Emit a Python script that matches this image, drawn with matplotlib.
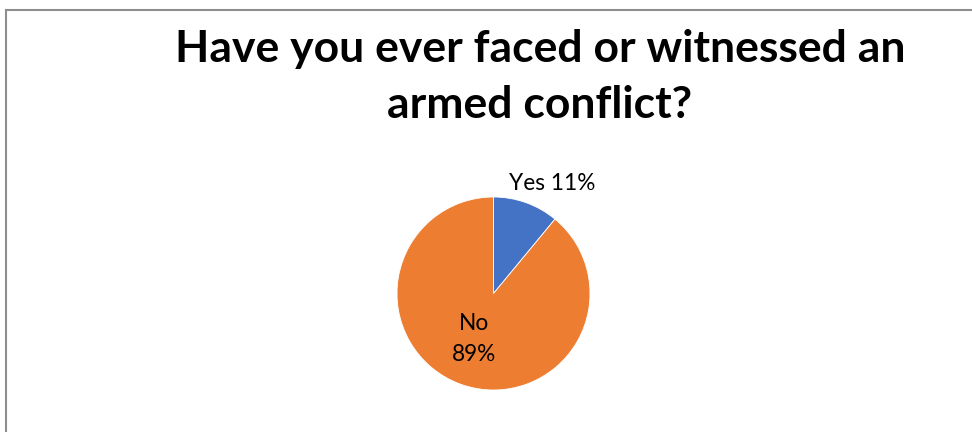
import matplotlib
matplotlib.use("Agg")
import matplotlib.pyplot as plt
from matplotlib.lines import Line2D

# Survey answers
categories = ["Yes", "No"]
shares = [11, 89]
colors = ["#4472C4", "#ED7D31"]
title = "Have you ever faced or witnessed an\narmed conflict?"

W, H = 972, 432
fig = plt.figure(figsize=(W / 100, H / 100), dpi=100)
fig.patch.set_facecolor("white")

# Chart-area border (top and left edges visible)
border = "#8E8E8E"
fig.add_artist(Line2D([6 / W, 1.0], [1 - 9.5 / H, 1 - 9.5 / H],
                      transform=fig.transFigure, color=border, lw=1.5))
fig.add_artist(Line2D([6 / W, 6 / W], [0.0, 1 - 9.5 / H],
                      transform=fig.transFigure, color=border, lw=1.5))

# Pie placed in pixel space
cx, cy, r = 493.5, 293.5, 96.5
ax = fig.add_axes([(cx - r) / W, (H - cy - r) / H, 2 * r / W, 2 * r / H])
ax.pie(shares, colors=colors, startangle=90, counterclock=False,
       radius=1.0, wedgeprops=dict(edgecolor="white", linewidth=0.6))
ax.set_xlim(-1, 1)
ax.set_ylim(-1, 1)
ax.set_aspect("equal")
ax.axis("off")

font = "Lato"
ax.text(0.61, 1.14, f"{categories[0]} {shares[0]}%", ha="center", va="center",
        fontsize=16.3, family=font, color="#000000", clip_on=False)
ax.text(-0.20, -0.47, f"{categories[1]}\n{shares[1]}%", ha="center", va="center",
        fontsize=16.3, family=font, color="#000000", linespacing=1.6,
        clip_on=False)

fig.text(540 / W, 1 - 29 / H, title, ha="center", va="top",
         fontsize=32, fontweight="bold", family=font, color="#000000",
         linespacing=1.5)

fig.savefig("out.png", dpi=100, facecolor="white")
